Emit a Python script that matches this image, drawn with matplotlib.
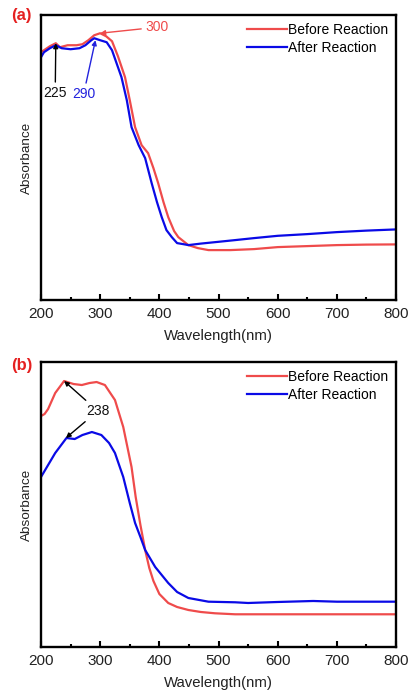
import matplotlib.pyplot as plt

plt.rcParams['font.family'] = ['Liberation Sans', 'DejaVu Sans']

RED = '#ef4b4b'
BLUE = '#0a0ae6'

# (a) spectra
wl_a_before = [200, 205, 215, 225, 232, 245, 260, 270, 280, 290, 300, 310, 320, 330, 342,
               350, 359, 370, 381, 390, 398, 407, 415, 425, 432, 449, 465, 483, 520, 560,
               600, 650, 700, 750, 800]
abs_a_before = [2.48, 2.50, 2.54, 2.57, 2.53, 2.55, 2.55, 2.56, 2.60, 2.65, 2.67, 2.64, 2.59,
                2.44, 2.23, 2.00, 1.73, 1.55, 1.47, 1.32, 1.17, 0.98, 0.83, 0.69, 0.63, 0.55,
                0.52, 0.50, 0.50, 0.51, 0.53, 0.54, 0.55, 0.555, 0.557]
wl_a_after = [200, 205, 215, 225, 235, 250, 265, 275, 285, 290, 300, 311, 320, 336, 345, 353,
              365, 376, 387, 396, 404, 412, 421, 430, 440, 449, 470, 500, 528, 560, 600, 650,
              700, 750, 800]
abs_a_after = [2.43, 2.48, 2.52, 2.55, 2.52, 2.51, 2.52, 2.55, 2.60, 2.62, 2.60, 2.58, 2.50,
               2.23, 2.00, 1.73, 1.55, 1.42, 1.17, 0.98, 0.83, 0.70, 0.63, 0.57, 0.56, 0.55,
               0.565, 0.583, 0.60, 0.62, 0.643, 0.66, 0.68, 0.695, 0.707]

# (b) spectra
wl_b_before = [200, 206, 212, 224, 239, 255, 269, 282, 294, 308, 325, 339, 353, 360, 368, 376,
               383, 390, 400, 415, 430, 449, 470, 494, 528, 600, 700, 800]
abs_b_before = [2.31, 2.33, 2.38, 2.54, 2.66, 2.63, 2.62, 2.64, 2.65, 2.62, 2.47, 2.20, 1.80,
                1.50, 1.22, 0.97, 0.79, 0.66, 0.53, 0.44, 0.40, 0.37, 0.35, 0.337, 0.327,
                0.327, 0.327, 0.327]
wl_b_after = [200, 212, 224, 243, 257, 270, 286, 302, 315, 325, 339, 350, 359, 368, 376, 393,
              415, 430, 449, 483, 528, 550, 600, 660, 700, 800]
abs_b_after = [1.70, 1.82, 1.94, 2.09, 2.08, 2.12, 2.15, 2.12, 2.04, 1.94, 1.70, 1.44, 1.24,
               1.10, 0.97, 0.80, 0.64, 0.55, 0.49, 0.453, 0.447, 0.44, 0.45, 0.46, 0.453,
               0.453]

labels = ['Before Reaction', 'After Reaction']
xticks = [200, 300, 400, 500, 600, 700, 800]

fig = plt.figure(figsize=(4.1, 6.93), dpi=100)
ax_a = fig.add_axes([0.1, 0.567, 0.866, 0.411])
ax_b = fig.add_axes([0.1, 0.0664, 0.866, 0.4112])

arrow = dict(arrowstyle='-|>', lw=1.0, mutation_scale=7, shrinkA=1, shrinkB=0)


def style_axis(ax):
    ax.set_xlim(200, 800)
    ax.set_ylim(0, 2.85)
    ax.set_xticks(xticks)
    ax.set_xticks(range(250, 800, 100), minor=True)
    ax.set_yticks([])
    ax.tick_params(axis='x', direction='in', length=4, width=1.5, labelsize=11, pad=5,
                   colors='black', labelcolor='#222222')
    ax.tick_params(axis='x', which='minor', direction='in', length=2, width=1.5)
    for s in ax.spines.values():
        s.set_linewidth(1.7)
    ax.set_xlabel('Wavelength(nm)', fontsize=10.7, color='#222222', labelpad=6)
    ax.set_ylabel('Absorbance', fontsize=9.7, color='#222222', labelpad=6)
    ax.legend(loc='upper right', frameon=False, fontsize=10, handlelength=2.9,
              handletextpad=0.1, labelspacing=0.3, borderaxespad=0.15)


ax_a.plot(wl_a_before, abs_a_before, color=RED, lw=1.6, label=labels[0])
ax_a.plot(wl_a_after, abs_a_after, color=BLUE, lw=1.6, label=labels[1])
style_axis(ax_a)
ax_a.annotate('300', xy=(300, 2.67), xytext=(396, 2.73), color=RED, fontsize=10,
              ha='center', va='center', arrowprops=dict(arrow, color=RED))
ax_a.annotate('225', xy=(225, 2.57), xytext=(224, 2.07), color='#111111', fontsize=10,
              ha='center', va='center', arrowprops=dict(arrow, color='black'))
ax_a.annotate('290', xy=(292, 2.60), xytext=(272, 2.06), color='#2222dd', fontsize=10,
              ha='center', va='center', arrowprops=dict(arrow, color='#2222dd'))

ax_b.plot(wl_b_before, abs_b_before, color=RED, lw=1.6, label=labels[0])
ax_b.plot(wl_b_after, abs_b_after, color=BLUE, lw=1.6, label=labels[1])
style_axis(ax_b)
ax_b.annotate('238', xy=(239, 2.66), xytext=(296, 2.36), color='#111111', fontsize=10,
              ha='center', va='center', arrowprops=dict(arrow, color='black'))
ax_b.annotate('238', xy=(242, 2.09), xytext=(296, 2.36), color='none', fontsize=10,
              ha='center', va='center', arrowprops=dict(arrow, color='black'))

fig.text(0.027, 0.977, '(a)', color='#e52121', fontsize=12, fontweight='bold', va='center')
fig.text(0.027, 0.473, '(b)', color='#e52121', fontsize=12, fontweight='bold', va='center')

fig.savefig('out.png', dpi=100)
